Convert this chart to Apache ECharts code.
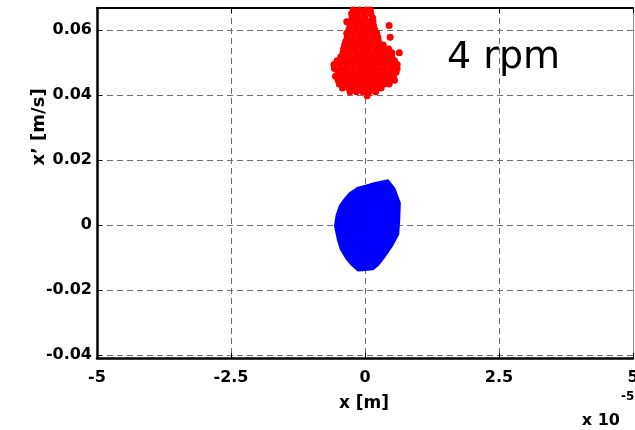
<!DOCTYPE html>
<html>
<head>
<meta charset="utf-8">
<script src="https://cdn.jsdelivr.net/npm/echarts@6/dist/echarts.min.js"></script>
<style>
  html, body { margin: 0; padding: 0; background: #fff; }
  #chart { width: 635px; height: 430px; }
</style>
</head>
<body>
<div id="chart"></div>
<script>
// Phase portrait at 4 rpm: x in units of 1e-5 m, x' in m/s.
const xRange = [-5, 5];
const xTicks = [-5, -2.5, 0, 2.5, 5];
const xTickLabels = ['-5', '-2.5', '0', '2.5', '5'];
const yRange = [-0.0409, 0.0668];
const yTicks = [-0.04, -0.02, 0, 0.02, 0.04, 0.06];
const yTickLabels = ['-0.04', '-0.02', '0', '0.02', '0.04', '0.06'];

// Red scatter cloud, grouped by x' level: [x', [x values ...]]
const redRows = [
  [0.0662, [-0.22, -0.1, 0.02, 0.1]],
  [0.0650, [-0.25, -0.13, -0.01, 0.11]],
  [0.0638, [-0.24, -0.12, 0.0, 0.14]],
  [0.0626, [-0.34, -0.27, -0.15, -0.03, 0.09, 0.15]],
  [0.0614, [-0.28, -0.16, -0.04, 0.08, 0.16, 0.45]],
  [0.0602, [-0.3, -0.18, -0.06, 0.06, 0.18]],
  [0.0590, [-0.34, -0.22, -0.1, 0.02, 0.14, 0.22]],
  [0.0578, [-0.33, -0.21, -0.09, 0.03, 0.15, 0.24, 0.47]],
  [0.0566, [-0.36, -0.24, -0.12, 0.0, 0.12, 0.25]],
  [0.0554, [-0.38, -0.26, -0.14, -0.02, 0.1, 0.22, 0.34]],
  [0.0542, [-0.4, -0.28, -0.16, -0.04, 0.08, 0.2, 0.32, 0.44]],
  [0.0530, [-0.41, -0.29, -0.17, -0.05, 0.07, 0.19, 0.31, 0.43, 0.5, 0.64]],
  [0.0518, [-0.45, -0.33, -0.21, -0.09, 0.03, 0.15, 0.27, 0.39, 0.5]],
  [0.0506, [-0.52, -0.4, -0.28, -0.16, -0.04, 0.08, 0.2, 0.32, 0.44, 0.55]],
  [0.0494, [-0.58, -0.46, -0.34, -0.22, -0.1, 0.02, 0.14, 0.26, 0.38, 0.5, 0.6]],
  [0.0482, [-0.57, -0.45, -0.33, -0.21, -0.09, 0.03, 0.15, 0.27, 0.39, 0.51, 0.6]],
  [0.0470, [-0.5, -0.38, -0.26, -0.14, -0.02, 0.1, 0.22, 0.34, 0.46, 0.58]],
  [0.0458, [-0.55, -0.43, -0.31, -0.19, -0.07, 0.05, 0.17, 0.29, 0.41, 0.53]],
  [0.0446, [-0.5, -0.38, -0.26, -0.14, -0.02, 0.1, 0.22, 0.34, 0.46, 0.55]],
  [0.0434, [-0.48, -0.36, -0.24, -0.12, 0.0, 0.12, 0.24, 0.36, 0.45]],
  [0.0422, [-0.42, -0.3, -0.18, -0.06, 0.06, 0.18, 0.3]],
  [0.0410, [-0.28, -0.16, -0.04, 0.08, 0.2]],
  [0.0398, [0.04]]
];

// Blue orbit: outer envelope and the traced loops
const blueHull = [
  [0.0, 0.0120], [0.15, 0.0128], [0.43, 0.0138], [0.55, 0.0112], [0.65, 0.0068],
  [0.64, 0.0020], [0.62, -0.0028], [0.50, -0.0065], [0.37, -0.0096], [0.25, -0.0122],
  [0.15, -0.0136], [-0.13, -0.0140], [-0.25, -0.0122], [-0.34, -0.0105], [-0.45, -0.0075],
  [-0.50, -0.0049], [-0.56, -0.0003], [-0.53, 0.0030], [-0.47, 0.0059], [-0.38, 0.0080],
  [-0.28, 0.0099], [-0.15, 0.0112], [0.0, 0.0120]
];
const blueLoopB = [
  [0.05, 0.0115], [0.40, 0.0128], [0.60, 0.0065], [0.58, -0.0030], [0.35, -0.0092],
  [0.12, -0.0132], [-0.10, -0.0133], [-0.32, -0.0100], [-0.52, -0.0010], [-0.44, 0.0058],
  [-0.20, 0.0105], [0.05, 0.0115]
];
const blueLoopC = [
  [0.10, 0.0125], [0.45, 0.0132], [0.62, 0.0078], [0.60, -0.0018], [0.42, -0.0085],
  [0.18, -0.0128], [-0.05, -0.0140], [-0.30, -0.0112], [-0.50, -0.0040], [-0.55, 0.0015],
  [-0.40, 0.0072], [-0.15, 0.0115], [0.10, 0.0125]
];

const redPoints = [];
redRows.forEach(function (row) {
  row[1].forEach(function (x) { redPoints.push([x, row[0]]); });
});

const FONT = 'DejaVu Sans';
const gridLine = { show: true, lineStyle: { color: '#6e6e6e', width: 1, type: [6, 4] } };

const chart = echarts.init(document.getElementById('chart'), null, { renderer: 'canvas' });

chart.setOption({
  animation: false,
  backgroundColor: '#ffffff',
  grid: { left: 97, right: 2, top: 8, bottom: 72, containLabel: false, outerBoundsMode: 'none' },
  xAxis: [
    {
      type: 'value', position: 'bottom', min: xRange[0], max: xRange[1], interval: 2.5,
      axisLine: { show: true, onZero: false, lineStyle: { color: '#000', width: 2.5 } },
      axisTick: { show: true, inside: true, length: 5, lineStyle: { color: '#000', width: 1 } },
      axisLabel: {
        color: '#000', fontFamily: FONT, fontWeight: 'bold', fontSize: 16, margin: 12,
        showMinLabel: true, showMaxLabel: true, hideOverlap: false,
        formatter: function (v) {
          const i = xTicks.findIndex(function (t) { return Math.abs(t - v) < 1e-9; });
          return i >= 0 ? xTickLabels[i] : '';
        }
      },
      splitLine: gridLine
    },
    {
      type: 'value', position: 'top', min: xRange[0], max: xRange[1], interval: 2.5,
      axisLine: { show: true, onZero: false, lineStyle: { color: '#000', width: 2 } },
      axisTick: { show: true, inside: true, length: 5, lineStyle: { color: '#000', width: 1 } },
      axisLabel: { show: false },
      splitLine: { show: false }
    }
  ],
  yAxis: [
    {
      type: 'value', position: 'left', min: yRange[0], max: yRange[1],
      axisLine: { show: true, onZero: false, lineStyle: { color: '#000', width: 2.5 } },
      axisTick: { show: true, inside: true, length: 5, customValues: yTicks, lineStyle: { color: '#000', width: 1 } },
      axisLabel: {
        color: '#000', fontFamily: FONT, fontWeight: 'bold', fontSize: 16, margin: 5,
        customValues: yTicks,
        formatter: function (v) {
          const i = yTicks.findIndex(function (t) { return Math.abs(t - v) < 1e-9; });
          return i >= 0 ? yTickLabels[i] : '';
        }
      },
      splitLine: gridLine
    },
    {
      type: 'value', position: 'right', min: yRange[0], max: yRange[1],
      axisLine: { show: true, onZero: false, lineStyle: { color: '#8a8a8a', width: 1 } },
      axisTick: { show: false },
      axisLabel: { show: false },
      splitLine: { show: false }
    }
  ],
  series: [
    {
      type: 'scatter', name: 'drift', xAxisIndex: 0, yAxisIndex: 0,
      data: redPoints, symbol: 'circle', symbolSize: 7,
      itemStyle: { color: '#ff0000', opacity: 1 },
      clip: true, silent: true, z: 3
    },
    {
      type: 'custom', name: 'orbit-fill', xAxisIndex: 0, yAxisIndex: 0,
      data: [0], silent: true, z: 2,
      renderItem: function (params, api) {
        const pts = blueHull.map(function (p) { return api.coord(p); });
        return { type: 'polygon', shape: { points: pts }, style: { fill: '#0000ff', stroke: null } };
      }
    },
    {
      type: 'line', name: 'orbit', xAxisIndex: 0, yAxisIndex: 0,
      data: blueHull, showSymbol: false, smooth: false,
      lineStyle: { color: '#0000ff', width: 2 }, silent: true, z: 4
    },
    {
      type: 'line', name: 'orbit-b', xAxisIndex: 0, yAxisIndex: 0,
      data: blueLoopB, showSymbol: false,
      lineStyle: { color: '#0000ff', width: 1.5 }, silent: true, z: 4
    },
    {
      type: 'line', name: 'orbit-c', xAxisIndex: 0, yAxisIndex: 0,
      data: blueLoopC, showSymbol: false,
      lineStyle: { color: '#0000ff', width: 1.5 }, silent: true, z: 4
    }
  ],
  graphic: [
    {
      type: 'text', x: 39, y: 127, rotation: Math.PI / 2,
      style: { text: 'x\u2019 [m/s]', font: 'bold 18px "DejaVu Sans"', fill: '#000', align: 'center', verticalAlign: 'middle' }
    },
    {
      type: 'text', x: 364, y: 404,
      style: { text: 'x [m]', font: 'bold 17px "DejaVu Sans"', fill: '#000', align: 'center', verticalAlign: 'middle' }
    },
    {
      type: 'text', x: 620, y: 421,
      style: { text: 'x 10', font: 'bold 16px "DejaVu Sans"', fill: '#000', align: 'right', verticalAlign: 'middle' }
    },
    {
      type: 'text', x: 621, y: 397,
      style: { text: '-5', font: 'bold 12px "DejaVu Sans"', fill: '#000', align: 'left', verticalAlign: 'middle' }
    },
    {
      type: 'text', x: 447, y: 58,
      style: { text: '4 rpm', font: '38px "DejaVu Sans"', fill: '#000', align: 'left', verticalAlign: 'middle' }
    }
  ]
});
</script>
</body>
</html>
